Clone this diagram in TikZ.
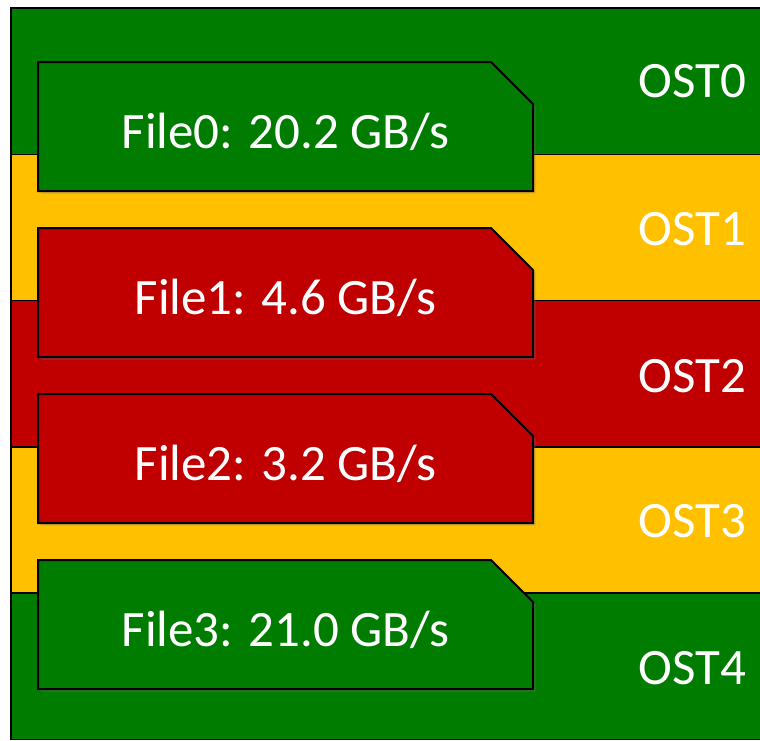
\documentclass[tikz,border=0pt]{standalone}
\usepackage{fontspec}
\setmainfont{Carlito}
\usetikzlibrary{positioning,shapes.misc,shadows}

\definecolor{ostgreen}{HTML}{007C00}
\definecolor{ostyellow}{HTML}{FFC000}
\definecolor{ostred}{HTML}{C00000}

\begin{document}
\begin{tikzpicture}[x=0.5pt,y=-0.5pt,
    band/.style={rectangle, draw=black, line width=0.8pt, minimum width=400pt, minimum height=73.15pt, inner sep=0pt, outer sep=0pt},
    file/.style={chamfered rectangle, chamfered rectangle corners=north east, chamfered rectangle sep=10.5pt,
        draw=black, line width=1pt, minimum width=247.5pt, minimum height=64.5pt, inner sep=0pt, outer sep=0pt,
        text=white, font=\fontsize{25.5}{30}\selectfont, text height=25pt, text depth=3pt,
        drop shadow={shadow xshift=1.3pt, shadow yshift=-1.3pt, opacity=0.3}},
    ostlabel/.style={text=white, font=\fontsize{25.5}{30}\selectfont, inner sep=0pt}
]
    \useasboundingbox (0,0) rectangle (760,740);
    \clip (0,0) rectangle (760,740);

    % OST bands
    \node[band, fill=ostgreen, anchor=north west] (band0) at (11,8) {};
    \node[band, fill=ostyellow, below=0pt of band0] (band1) {};
    \node[band, fill=ostred, below=0pt of band1] (band2) {};
    \node[band, fill=ostyellow, below=0pt of band2] (band3) {};
    \node[band, fill=ostgreen, below=0pt of band3] (band4) {};

    % OST labels
    \node[ostlabel] (ost0) at (692.5,81.2) {OST0};
    \node[ostlabel] (ost1) at (692.5,229.5) {OST1};
    \node[ostlabel] (ost2) at (692.5,375.8) {OST2};
    \node[ostlabel] (ost3) at (692.5,521.5) {OST3};
    \node[ostlabel] (ost4) at (692.5,668.5) {OST4};

    % Files
    \node[file, fill=ostgreen] (file0) at (285.5,126.5) {File0: 20.2 GB/s};
    \node[file, fill=ostred, below=18.5pt of file0] (file1) {File1: 4.6 GB/s};
    \node[file, fill=ostred, below=18.5pt of file1] (file2) {File2: 3.2 GB/s};
    \node[file, fill=ostgreen, below=18.5pt of file2] (file3) {File3: 21.0 GB/s};
\end{tikzpicture}
\end{document}
